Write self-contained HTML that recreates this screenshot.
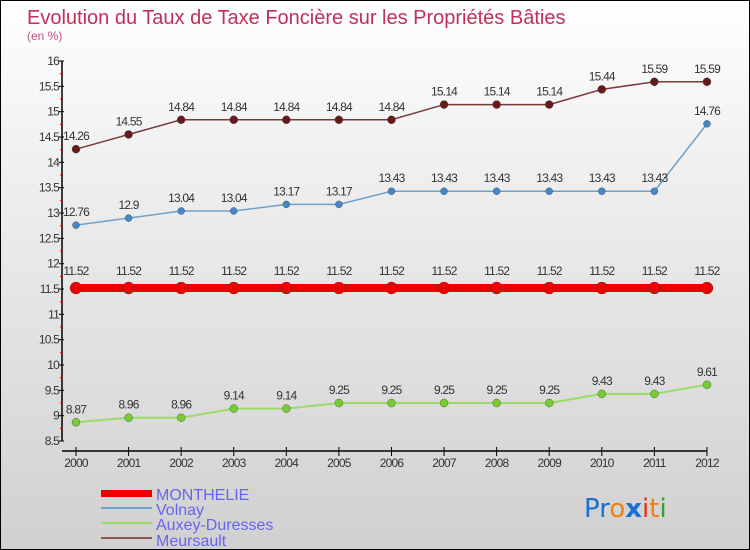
<!DOCTYPE html>
<html><head><meta charset="utf-8"><style>
body{margin:0}
#c{position:relative;width:748px;height:548px;border:1px solid #000;background:linear-gradient(#fff 0%,#f2f2f2 25%,#d0d0d0 100%);font-family:"Liberation Sans",sans-serif;overflow:hidden}
</style></head><body>
<div id="c">
<svg id="s" width="748" height="548" xmlns="http://www.w3.org/2000/svg">
<text x="26" y="23" font-size="20" fill="#c0305a">Evolution du Taux de Taxe Foncière sur les Propriétés Bâties</text>
<text x="26" y="39" font-size="12" fill="#c05080">(en %)</text>
<g id="axes"></g><g id="series"></g>
<g>
<rect x="100" y="489" width="51" height="7" fill="#ee0000"/>
<text x="155" y="499" font-size="16" fill="#6666ee">MONTHELIE</text>
<rect x="100" y="506" width="51" height="2" fill="#6fa0c8"/>
<text x="155" y="514" font-size="16" fill="#6666ee">Volnay</text>
<rect x="100" y="521" width="51" height="2" fill="#99dd66"/>
<text x="155" y="529" font-size="16" fill="#6666ee">Auxey-Duresses</text>
<rect x="100" y="536" width="51" height="2" fill="#8a5555"/>
<text x="155" y="545" font-size="16" fill="#6666ee">Meursault</text>
</g>
<g font-size="26" font-family="'DejaVu Sans',sans-serif">
<text x="583" y="516"><tspan fill="#1a6fd0">Pr</tspan><tspan fill="#f08010">o</tspan><tspan fill="#1a6fd0" font-weight="bold">x</tspan><tspan fill="#e83010">i</tspan><tspan fill="#f08010">t</tspan><tspan fill="#30a030">i</tspan></text>
</g>
</svg>
</div>
<script>
const years=[2000,2001,2002,2003,2004,2005,2006,2007,2008,2009,2010,2011,2012];
const monthelie=[11.52,11.52,11.52,11.52,11.52,11.52,11.52,11.52,11.52,11.52,11.52,11.52,11.52];
const volnay=[12.76,12.9,13.04,13.04,13.17,13.17,13.43,13.43,13.43,13.43,13.43,13.43,14.76];
const auxey=[8.87,8.96,8.96,9.14,9.14,9.25,9.25,9.25,9.25,9.25,9.43,9.43,9.61];
const meursault=[14.26,14.55,14.84,14.84,14.84,14.84,14.84,15.14,15.14,15.14,15.44,15.59,15.59];
const yTicks=[8.5,9,9.5,10,10.5,11,11.5,12,12.5,13,13.5,14,14.5,15,15.5,16];
const NS="http://www.w3.org/2000/svg";
const X=i=>75+i*52.58;
const Y=v=>60+(16-v)*50.67;
function mk(tag,a,p){const e=document.createElementNS(NS,tag);for(const k in a)e.setAttribute(k,a[k]);p.appendChild(e);return e;}
const ax=document.getElementById('axes');
let e=mk('line',{x1:61,y1:60,x2:61,y2:440,stroke:'#000','stroke-width':1.5},ax);


e=mk('line',{x1:61,y1:450,x2:706,y2:450,stroke:'#000','stroke-width':1.5},ax);


yTicks.forEach((t,i)=>{
  mk('line',{x1:58,y1:Y(t),x2:63,y2:Y(t),stroke:'#000'},ax);
  if(i<yTicks.length-1) mk('line',{x1:59,y1:Y(t+0.25),x2:62,y2:Y(t+0.25),stroke:'#e00000'},ax);
  const l=mk('text',{x:58,y:Y(t)+4,'font-size':12,'text-anchor':'end',fill:'#333','letter-spacing':'-0.8'},ax);
  l.textContent=String(t);
  
  
});
years.forEach((yr,i)=>{
  mk('line',{x1:X(i),y1:446,x2:X(i),y2:455,stroke:'#000'},ax);
  const l=mk('text',{x:X(i),y:466,'font-size':12,'text-anchor':'middle',fill:'#333','letter-spacing':'-0.8'},ax);
  l.textContent=String(yr);
  
  
});
const sg=document.getElementById('series');
function series(data,name,color,w,r,fill,labelOff){
  const g=mk('g',{},sg);
  
  
  mk('polyline',{points:data.map((v,i)=>X(i)+','+Y(v)).join(' '),fill:'none',stroke:color,'stroke-width':w},g);
  data.forEach((v,i)=>{
    const c=mk('circle',{cx:X(i),cy:Y(v),r:r,fill:fill,stroke:'#444','stroke-width':0.4},g);
    
    
    const t=mk('text',{x:X(i),y:Y(v)-labelOff,'font-size':12,'text-anchor':'middle',fill:'#333','letter-spacing':'-0.8'},g);
    t.textContent=String(v);
    
    
  });
}
series(auxey,'auxey-duresses','#99dd66',2,4,'#77cc33',9);
series(volnay,'volnay','#6fa0c8',1.5,3.5,'#4488cc',9);
series(meursault,'meursault','#7a3a3a',1.5,4,'#661a1a',9);
series(monthelie,'monthelie','#ee0000',8,6,'#ee0000',13);
</script>
</body></html>
